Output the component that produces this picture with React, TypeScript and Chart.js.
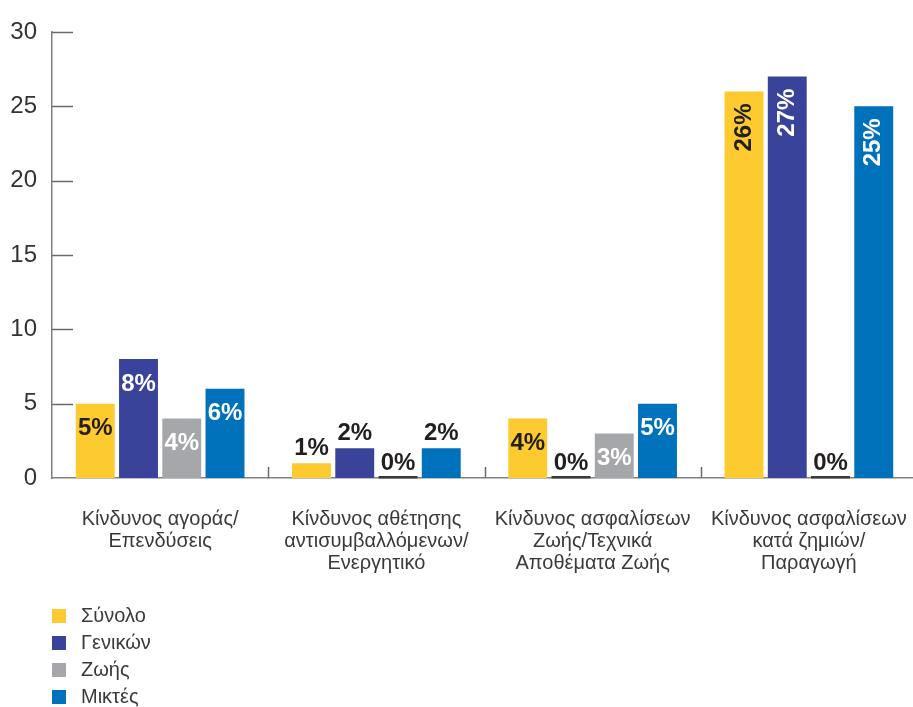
import React, { useEffect, useRef } from "react";
import { Chart, registerables } from "chart.js";

Chart.register(...registerables);

const categories: string[][] = [
  ["Κίνδυνος αγοράς/", "Επενδύσεις"],
  ["Κίνδυνος αθέτησης", "αντισυμβαλλόμενων/", "Ενεργητικό"],
  ["Κίνδυνος ασφαλίσεων", "Ζωής/Τεχνικά", "Αποθέματα Ζωής"],
  ["Κίνδυνος ασφαλίσεων", "κατά ζημιών/", "Παραγωγή"],
];

const seriesNames = ["Σύνολο", "Γενικών", "Ζωής", "Μικτές"];
const synolo = [5, 1, 4, 26];
const genikon = [8, 2, 0, 27];
const zois = [4, 0, 3, 0];
const miktes = [6, 2, 5, 25];
const yTicks = [0, 5, 10, 15, 20, 25, 30];

const colors = ["#FDCA30", "#39439A", "#A6A7AA", "#0071BB"];
const labelDark = [true, false, false, false];

const W = 913;
const CW = 917;
const H = 707;
const FONT = "'Liberation Sans', Arial, sans-serif";

const decorPlugin = {
  id: "decor",
  afterDatasetsDraw(chart: any) {
    const ctx = chart.ctx;
    const y = chart.scales.y;
    const x = chart.scales.x;
    const area = chart.chartArea;
    ctx.save();
    // inside y ticks
    ctx.strokeStyle = "#6b6b6b";
    ctx.lineWidth = 1.5;
    yTicks.forEach((v) => {
      if (v === 0) return;
      const py = Math.round(y.getPixelForValue(v)) + 0.5;
      ctx.beginPath();
      ctx.moveTo(area.left, py);
      ctx.lineTo(area.left + 21, py);
      ctx.stroke();
    });
    // category separators
    const n = categories.length;
    for (let i = 0; i < n - 1; i++) {
      const px = Math.round((x.getPixelForValue(i) + x.getPixelForValue(i + 1)) / 2) + 0.5;
      ctx.beginPath();
      ctx.moveTo(px, area.bottom);
      ctx.lineTo(px, area.bottom - 11);
      ctx.stroke();
    }
    // zero bars & value labels
    chart.data.datasets.forEach((ds: any, di: number) => {
      const meta = chart.getDatasetMeta(di);
      meta.data.forEach((bar: any, i: number) => {
        const v = ds.data[i];
        const top = bar.y;
        const bx = bar.x;
        if (v === 0) {
          ctx.fillStyle = "#3a3a3a";
          ctx.fillRect(bx - bar.width / 2, area.bottom - 2, bar.width, 2.5);
        }
        const txt = v + "%";
        if (v > 10) {
          ctx.save();
          ctx.translate(bx, top + 12);
          ctx.rotate(-Math.PI / 2);
          ctx.font = "bold 24px " + FONT;
          ctx.textAlign = "right";
          ctx.textBaseline = "middle";
          ctx.fillStyle = labelDark[di] ? "#231f20" : "#ffffff";
          ctx.fillText(txt, 0, 0);
          ctx.restore();
        } else if (v >= 3) {
          ctx.font = "bold 24px " + FONT;
          ctx.textAlign = "center";
          ctx.textBaseline = "middle";
          ctx.fillStyle = labelDark[di] ? "#231f20" : "#ffffff";
          ctx.fillText(txt, bx, top + 25);
        } else {
          ctx.font = "bold 24px " + FONT;
          ctx.textAlign = "center";
          ctx.textBaseline = "middle";
          ctx.fillStyle = "#231f20";
          ctx.fillText(txt, bx, top - 15);
        }
      });
    });
    // legend
    ctx.font = "20px " + FONT;
    ctx.textAlign = "left";
    ctx.textBaseline = "middle";
    seriesNames.forEach((name, i) => {
      const cy = 616 + i * 27;
      ctx.fillStyle = colors[i];
      ctx.fillRect(52, cy - 7, 14, 14);
      ctx.fillStyle = "#3a3a3a";
      ctx.fillText(name, 81, cy);
    });
    ctx.restore();
  },
};

export default function App() {
  const ref = useRef<HTMLCanvasElement | null>(null);
  useEffect(() => {
    if (!ref.current) return;
    const chart = new Chart(ref.current, {
      type: "bar",
      data: {
        labels: categories,
        datasets: [synolo, genikon, zois, miktes].map((d, i) => ({
          label: seriesNames[i],
          data: d,
          backgroundColor: colors[i],
          borderWidth: 0,
          categoryPercentage: 0.8,
          barPercentage: 0.9,
        })),
      },
      options: {
        responsive: false,
        animation: false,
        devicePixelRatio: 1,
        layout: { autoPadding: false, padding: { top: 32, left: 0, right: 0, bottom: 0 } },
        plugins: {
          legend: { display: false },
          tooltip: { enabled: false },
        },
        scales: {
          x: {
            grid: { display: false, drawTicks: false },
            border: { display: true, color: "#808080", width: 1.5 },
            ticks: {
              padding: 31,
              color: "#3a3a3a",
              font: { family: FONT, size: 20, lineHeight: 1.08 },
              maxRotation: 0,
              autoSkip: false,
            },
            afterFit: (s: any) => {
              s.height = H - 478;
              s.paddingLeft = 0;
              s.paddingRight = 0;
            },
          },
          y: {
            min: 0,
            max: 30,
            afterBuildTicks: (s: any) => {
              s.ticks = yTicks.map((v) => ({ value: v }));
            },
            grid: { display: false, drawTicks: false },
            border: { display: true, color: "#808080", width: 1.5 },
            ticks: {
              padding: 15,
              color: "#333333",
              font: { family: FONT, size: 24 },
            },
            afterFit: (s: any) => {
              s.width = 52;
            },
          },
        },
      },
      plugins: [decorPlugin],
    } as any);
    return () => chart.destroy();
  }, []);
  return (
    <div style={{ position: "fixed", left: 0, top: 0, width: W, height: H, background: "#fff", overflow: "hidden" }}>
      <canvas ref={ref} width={CW} height={H} style={{ width: CW, height: H, display: "block" }} />
    </div>
  );
}
